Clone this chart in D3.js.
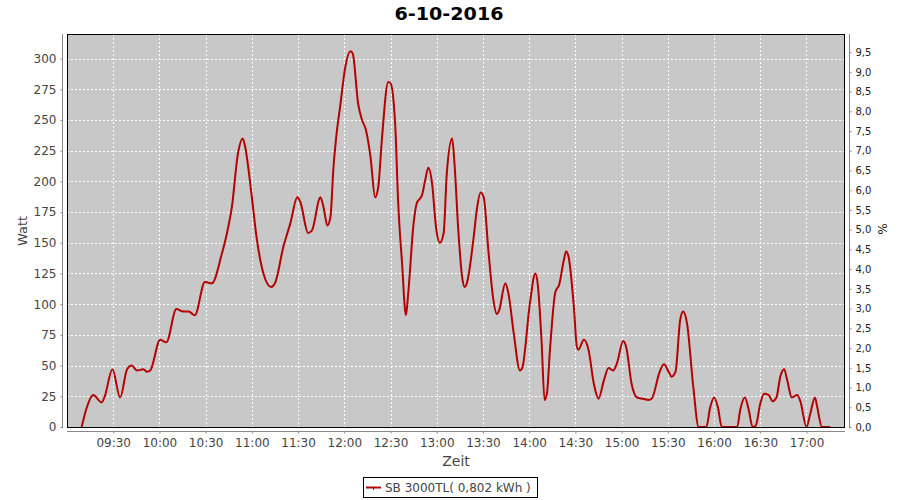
<!DOCTYPE html>
<html>
<head>
<meta charset="utf-8">
<script src="https://cdn.jsdelivr.net/npm/d3@7/dist/d3.min.js"></script>
<style>
  html, body { margin: 0; padding: 0; background: #ffffff; }
  svg { display: block; font-family: "DejaVu Sans", sans-serif; }
</style>
</head>
<body>
<svg id="chart" width="900" height="500"></svg>
<script>
const title = "6-10-2016";
const seriesName = "SB 3000TL( 0,802 kWh )";
const times = [
  "09:09:30","09:13:00","09:17:00","09:22:30","09:24:30","09:29:30","09:34:30","09:39:00","09:42:00","09:45:30",
  "09:49:30","09:52:00","09:54:00","10:00:30","10:04:30","10:11:00","10:15:30","10:19:00","10:23:00","10:29:30",
  "10:34:00","10:40:30","10:43:30","10:47:00","10:51:00","10:54:00","10:55:30","11:00:00","11:03:00","11:07:30",
  "11:12:30","11:15:00","11:20:30","11:25:00","11:29:30","11:31:30","11:36:30","11:39:00","11:44:30","11:46:30",
  "11:49:00","11:51:00","11:53:00","11:54:30","11:57:30","12:00:30","12:04:00","12:05:30","12:09:00","12:11:30",
  "12:14:00","12:17:00","12:20:00","12:22:00","12:24:30","12:28:30","12:30:00","12:33:00","12:35:00","12:37:30",
  "12:40:00","12:41:30","12:45:00","12:47:00","12:50:30","12:52:30","12:54:30","12:57:00","12:59:30","13:02:00",
  "13:04:30","13:06:30","13:10:00","13:11:30","13:14:00","13:16:30","13:18:00","13:19:30","13:24:00","13:26:00",
  "13:28:30","13:30:30","13:33:30","13:36:30","13:39:00","13:40:30","13:44:30","13:46:30","13:50:00","13:54:00",
  "13:55:30","14:00:30","14:04:00","14:05:30","14:08:00","14:10:00","14:11:30","14:13:30","14:17:00","14:19:30",
  "14:22:30","14:24:00","14:25:30","14:29:00","14:31:00","14:32:00","14:35:30","14:38:30","14:42:00","14:45:00",
  "14:48:30","14:51:30","14:54:30","14:57:00","15:01:00","15:03:00","15:06:30","15:10:00","15:14:00","15:17:30",
  "15:19:30","15:25:00","15:27:30","15:30:30","15:32:30","15:35:00","15:38:00","15:40:00","15:42:30","15:46:30",
  "15:50:00","15:55:00","15:57:30","16:00:00","16:02:30","16:05:00","16:15:00","16:17:00","16:20:00","16:22:30",
  "16:25:00","16:27:00","16:30:00","16:32:30","16:35:30","16:38:00","16:40:30","16:43:00","16:45:30","16:47:30",
  "16:50:30","16:54:00","16:56:00","17:00:00","17:02:30","17:05:30","17:07:00","17:10:00","17:15:30"
];
const watts = [
  0,16.5,26,20,25,47,24,47,50,46,
  47,45,46,71,69,96,94,94,91,118,
  117,141,156,179,223,235,229,187,155,125,
  114,117,147,166,187,183,158,160,187,179,
  164,171,212,233,263,292,306,304,263,250,
  242,220,187,195,236,281,280,247,182,133,
  91,109,166,182,189,201,211,198,163,150,
  158,206,235,215,160,122,114,117,155,177,
  191,187,144,106,92,95,117,109,76,46,
  48,101,125,117,71,22,27,63,110,116,
  136,143,139,98,65,63,71,63,35,23,
  38,48,46,52,70,65,35,24,23,22,
  23,46,51,45,41,45,87,94,84,33,
  0,0,16,24,16,0,0,14,24,14,
  0,1,19,27,26,21,24,41,47,38,
  24,26,21,0,11,24,16,0,0
];
const xTickLabels = ["09:30","10:00","10:30","11:00","11:30","12:00","12:30","13:00","13:30","14:00","14:30","15:00","15:30","16:00","16:30","17:00"];
const yTicks = [0,25,50,75,100,125,150,175,200,225,250,275,300];
const pctTicks = [0,0.5,1,1.5,2,2.5,3,3.5,4,4.5,5,5.5,6,6.5,7,7.5,8,8.5,9,9.5];

const day = "2016-10-06";
const parse = d3.timeParse("%Y-%m-%d %H:%M:%S");
const parseHM = d3.timeParse("%Y-%m-%d %H:%M");
const data = times.map((t, i) => ({ t: parse(day + " " + t), v: watts[i] }));

const svg = d3.select("#chart");
const plot = { left: 67, right: 845, top: 34, bottom: 427 };

const x = d3.scaleTime()
  .domain([parseHM(day + " 09:00"), parseHM(day + " 17:25")])
  .range([plot.left, plot.right]);
const y = d3.scaleLinear().domain([0, 320]).range([plot.bottom, plot.top]);
const y2 = d3.scaleLinear().domain([0, 9.96]).range([plot.bottom, plot.top]);

// title
svg.append("text")
  .attr("x", 449).attr("y", 19.5)
  .attr("text-anchor", "middle")
  .attr("font-size", 17).attr("font-weight", "bold")
  .attr("fill", "#000")
  .attr("textLength", 109).attr("lengthAdjust", "spacingAndGlyphs")
  .text(title);

// plot background
svg.append("rect")
  .attr("x", plot.left).attr("y", plot.top)
  .attr("width", plot.right - plot.left).attr("height", plot.bottom - plot.top)
  .attr("fill", "#c8c8c8");

const xTickDates = xTickLabels.map(s => parseHM(day + " " + s));

// grid
const grid = svg.append("g").attr("stroke", "#ffffff").attr("stroke-width", 1).attr("stroke-dasharray", "2,2");
grid.selectAll("line.h").data(yTicks.filter(d => d > 0)).enter().append("line")
  .attr("x1", plot.left).attr("x2", plot.right)
  .attr("y1", d => Math.round(y(d)) + 0.5).attr("y2", d => Math.round(y(d)) + 0.5);
grid.selectAll("line.v").data(xTickDates).enter().append("line")
  .attr("y1", plot.top).attr("y2", plot.bottom)
  .attr("x1", d => Math.round(x(d)) + 0.5).attr("x2", d => Math.round(x(d)) + 0.5);

// line
const line = d3.line().x(d => x(d.t)).y(d => y(d.v)).curve(d3.curveMonotoneX);
const clip = svg.append("clipPath").attr("id", "clip").append("rect")
  .attr("x", plot.left).attr("y", plot.top)
  .attr("width", plot.right - plot.left).attr("height", plot.bottom - plot.top + 1);
svg.append("path")
  .datum(data)
  .attr("clip-path", "url(#clip)")
  .attr("fill", "none")
  .attr("stroke", "#b40000")
  .attr("stroke-width", 2)
  .attr("stroke-linejoin", "round")
  .attr("d", line);

// plot border
svg.append("rect")
  .attr("x", plot.left + 0.5).attr("y", plot.top + 0.5)
  .attr("width", plot.right - plot.left - 1).attr("height", plot.bottom - plot.top)
  .attr("fill", "none").attr("stroke", "#000").attr("stroke-width", 1);

const axisColor = "#888888";
const labelColor = "#444444";

// left axis
const yAxis = d3.axisLeft(y).tickValues(yTicks).tickSize(2).tickPadding(4).tickFormat(d3.format("d"));
const gy = svg.append("g").attr("transform", "translate(62.5,0)").call(yAxis);
gy.select(".domain").attr("stroke", axisColor).attr("d", `M-0,${plot.top}V${plot.bottom + 1}`);
gy.selectAll(".tick line").attr("stroke", axisColor);
gy.selectAll(".tick text").attr("fill", labelColor).attr("font-size", 12).attr("font-family", "DejaVu Sans, sans-serif");

// right axis
const fmtPct = d => d3.format(".1f")(d).replace(".", ",");
const y2Axis = d3.axisRight(y2).tickValues(pctTicks).tickSize(2).tickPadding(4).tickFormat(fmtPct);
const gy2 = svg.append("g").attr("transform", "translate(849.5,0)").call(y2Axis);
gy2.select(".domain").attr("stroke", axisColor).attr("d", `M0,${plot.top}V${plot.bottom + 1}`);
gy2.selectAll(".tick line").attr("stroke", axisColor);
gy2.selectAll(".tick text").attr("fill", "#222").attr("font-size", 10).attr("font-family", "DejaVu Sans, sans-serif");

// bottom axis
const xAxis = d3.axisBottom(x).tickValues(xTickDates).tickSize(2).tickPadding(5).tickFormat(d3.timeFormat("%H:%M"));
const gx = svg.append("g").attr("transform", "translate(0,431.5)").call(xAxis);
gx.select(".domain").attr("stroke", axisColor).attr("d", `M${plot.left},0H${plot.right}`);
gx.selectAll(".tick line").attr("stroke", axisColor);
gx.selectAll(".tick text").attr("fill", labelColor).attr("font-size", 12).attr("font-family", "DejaVu Sans, sans-serif");

// axis titles
svg.append("text")
  .attr("transform", "translate(27,231) rotate(-90)")
  .attr("text-anchor", "middle").attr("font-size", 13).attr("fill", "#444")
  .text("Watt");
svg.append("text")
  .attr("x", 456).attr("y", 466)
  .attr("text-anchor", "middle").attr("font-size", 14).attr("fill", "#444")
  .text("Zeit");
svg.append("text")
  .attr("transform", "translate(878,229) rotate(90)")
  .attr("text-anchor", "middle").attr("font-size", 12).attr("fill", "#222")
  .text("%");

// legend
const lg = svg.append("g");
lg.append("rect")
  .attr("x", 363.5).attr("y", 477.5).attr("width", 174).attr("height", 20)
  .attr("fill", "#fff").attr("stroke", "#000").attr("stroke-width", 1);
lg.append("line")
  .attr("x1", 366).attr("x2", 381).attr("y1", 487.5).attr("y2", 487.5)
  .attr("stroke", "#b40000").attr("stroke-width", 2);
lg.append("line")
  .attr("x1", 373.5).attr("x2", 373.5).attr("y1", 487).attr("y2", 490)
  .attr("stroke", "#b40000").attr("stroke-width", 1);
lg.append("text")
  .attr("x", 385).attr("y", 492)
  .attr("font-size", 12).attr("fill", "#444")
  .text(seriesName);
</script>
</body>
</html>
